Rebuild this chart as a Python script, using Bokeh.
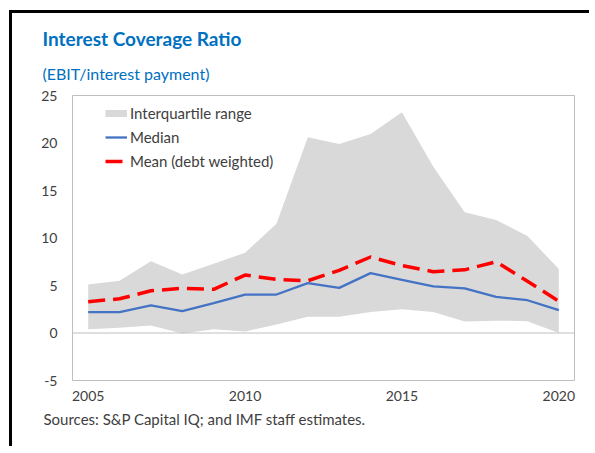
from bokeh.plotting import figure
from bokeh.models import (ColumnDataSource, Span, Legend, LegendItem, FixedTicker,
                          Title, PrintfTickFormatter)
from bokeh.embed import file_html
from bokeh.resources import INLINE

years = list(range(2005, 2021))
iqr_low = [0.4, 0.55, 0.8, -0.05, 0.4, 0.15, 0.9, 1.7, 1.7, 2.2, 2.5, 2.2, 1.2, 1.3, 1.25, 0.0]
iqr_high = [5.1, 5.5, 7.55, 6.15, 7.3, 8.45, 11.5, 20.6, 19.9, 20.95, 23.25, 17.5, 12.7, 11.9, 10.2, 6.75]
median = [2.2, 2.2, 2.9, 2.3, 3.15, 4.05, 4.05, 5.25, 4.75, 6.3, 5.6, 4.9, 4.7, 3.8, 3.45, 2.4]
mean_dw = [3.3, 3.6, 4.45, 4.7, 4.6, 6.1, 5.65, 5.5, 6.6, 8.0, 7.1, 6.45, 6.65, 7.5, 5.45, 3.35]
x_ticks = [2005, 2010, 2015, 2020]
y_ticks = [-5, 0, 5, 10, 15, 20, 25]

title_text = "Interest Coverage Ratio"
subtitle_text = "(EBIT/interest payment)"
source_text = "Sources: S&P Capital IQ; and IMF staff estimates."

FONT = "Lato"
src = ColumnDataSource(dict(x=years, lo=iqr_low, hi=iqr_high, med=median, mean=mean_dw))

p = figure(width=580, height=436, x_range=(2004.5, 2020.5), y_range=(-5, 25),
           output_backend="svg", toolbar_location=None, title=None,
           min_border_left=60, min_border_right=18, min_border_top=82, min_border_bottom=69)
p.styles = {"border-top": "3px solid black", "border-left": "3px solid black",
            "margin-top": "10px", "margin-left": "9px"}
p.grid.visible = False
p.outline_line_color = "#BFBFBF"
p.outline_line_width = 1
p.background_fill_color = "white"
p.border_fill_color = "white"

for ax in (p.xaxis[0], p.yaxis[0]):
    ax.axis_line_color = None
    ax.major_tick_line_color = None
    ax.minor_tick_line_color = None
    ax.major_tick_out = 0
    ax.major_tick_in = 0
    ax.major_label_text_font = FONT
    ax.major_label_text_font_size = "14px"
    ax.major_label_text_color = "#404040"
p.xaxis.ticker = FixedTicker(ticks=x_ticks)
p.yaxis.ticker = FixedTicker(ticks=y_ticks)
p.yaxis.formatter = PrintfTickFormatter(format="%d")
p.xaxis.major_label_standoff = 10
p.yaxis.major_label_standoff = 15

area = p.varea(x="x", y1="lo", y2="hi", source=src, fill_color="#D9D9D9")
p.add_layout(Span(location=0, dimension="width", line_color="#BFBFBF", line_width=1))
med = p.line(x="x", y="med", source=src, line_color="#4472C4", line_width=2.3)
mn = p.line(x="x", y="mean", source=src, line_color="#FF0000", line_width=3.5, line_dash="17 8")
proxy = p.line(x=years[:1], y=iqr_low[:1], line_color="#D9D9D9", line_width=7)

legend = Legend(items=[LegendItem(label="Interquartile range", renderers=[proxy]),
                       LegendItem(label="Median", renderers=[med]),
                       LegendItem(label="Mean (debt weighted)", renderers=[mn])],
                location=(33, 209), padding=0, margin=0, spacing=4,
                glyph_width=22, glyph_height=20, label_height=20, label_standoff=3,
                border_line_color=None, background_fill_alpha=0,
                label_text_font=FONT, label_text_font_size="15px", label_text_color="#404040")
p.add_layout(legend, "center")

p.add_layout(Title(text=subtitle_text, align="left", offset=-30, standoff=25,
                   text_font=FONT, text_font_size="16px", text_font_style="normal",
                   text_line_height=0.95, text_color="#0070C0"), "above")
p.add_layout(Title(text=title_text, align="left", offset=-30, standoff=0,
                   text_font=FONT, text_font_size="19px", text_font_style="bold",
                   text_color="#0070C0"), "above")
p.add_layout(Title(text=source_text, align="left", offset=-29, standoff=9,
                   text_font=FONT, text_font_size="15px", text_font_style="normal",
                   text_color="#404040"), "below")

open("out.html", "w").write(file_html(p, INLINE))
